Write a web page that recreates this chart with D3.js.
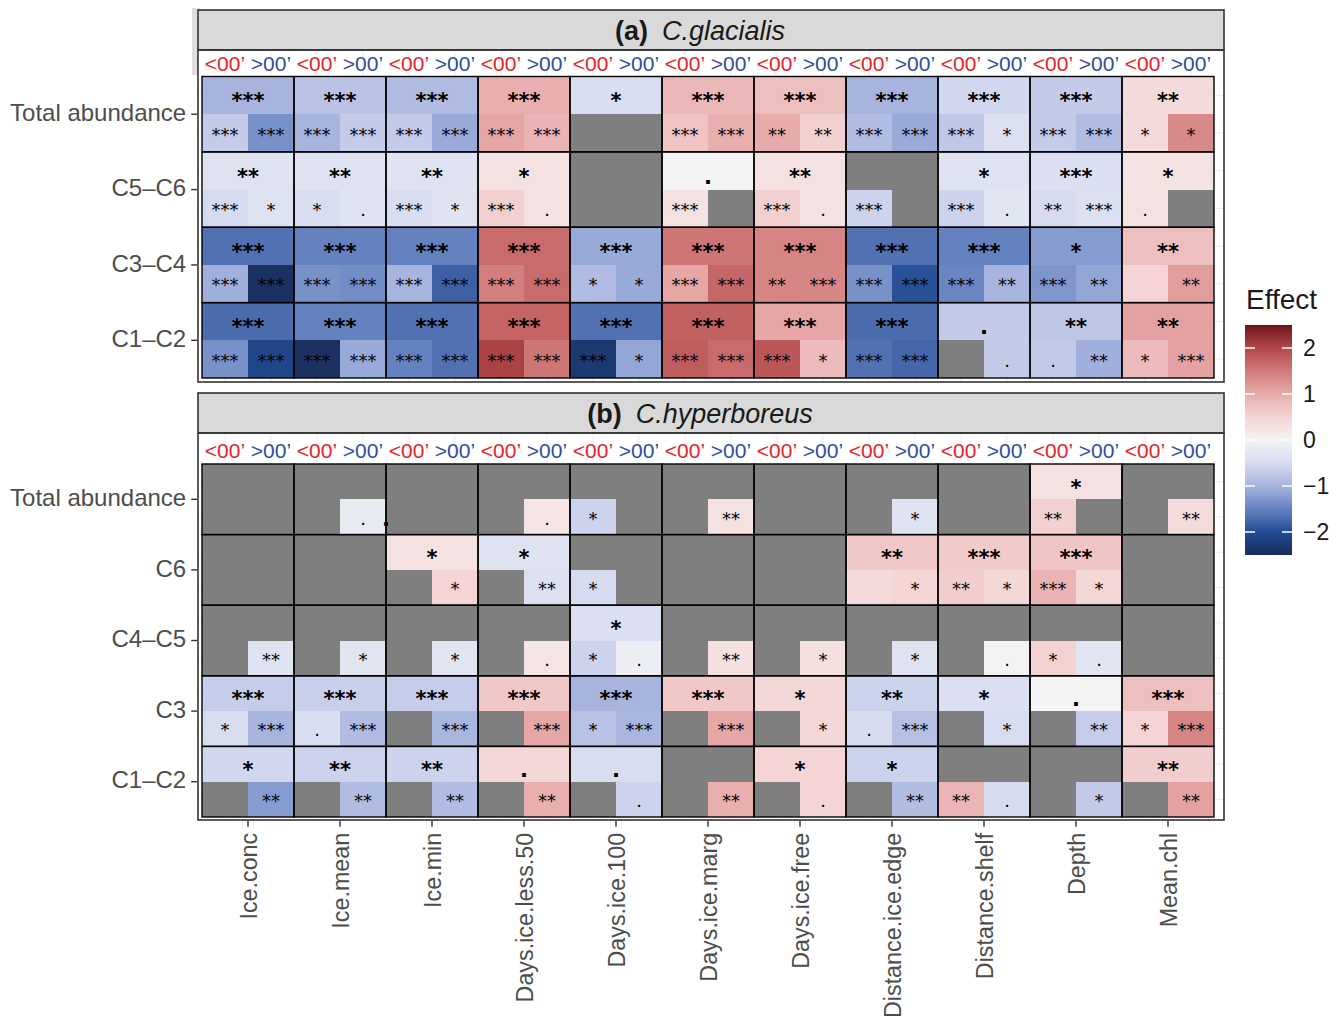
<!DOCTYPE html>
<html>
<head>
<meta charset="utf-8">
<script src="https://cdn.jsdelivr.net/npm/d3@7"></script>
<style>
  body { margin: 0; background: #fff; }
  svg { font-family: "Liberation Sans", Arial, Helvetica, sans-serif; }
</style>
</head>
<body>
<svg id="chart" width="1341" height="1021"></svg>
<script>
// ---- Explanatory variables (columns) and the two latitude halves of each cell ----
const variables = ["Ice.conc", "Ice.mean", "Ice.min", "Days.ice.less.50", "Days.ice.100",
  "Days.ice.marg", "Days.ice.free", "Distance.ice.edge", "Distance.shelf", "Depth", "Mean.chl"];
const halves = ["<00’", ">00’"];

// ---- Calanus glacialis ----
const glacStages = ["Total abundance", "C5–C6", "C3–C4", "C1–C2"];
// whole-area effect (upper half of each cell)
const glacAllEffect = [
  [-1.0, -0.8, -0.9, 0.95, -0.45, 0.85, 0.75, -1.0, -0.55, -0.7, 0.4],
  [-0.35, -0.35, -0.35, 0.3, null, 0.02, 0.3, null, -0.35, -0.42, 0.28],
  [-1.65, -1.5, -1.5, 1.65, -1.1, 1.55, 1.4, -1.65, -1.5, -1.25, 0.75],
  [-1.7, -1.5, -1.65, 1.72, -1.65, 1.75, 1.05, -1.7, -0.7, -0.75, 1.1]
];
const glacAllSig = [
  ["***", "***", "***", "***", "*", "***", "***", "***", "***", "***", "**"],
  ["**", "**", "**", "*", "", ".", "**", "", "*", "***", "*"],
  ["***", "***", "***", "***", "***", "***", "***", "***", "***", "*", "**"],
  ["***", "***", "***", "***", "***", "***", "***", "***", ".", "**", "**"]
];
// south of the split (<00')
const glacBelowEffect = [
  [-0.7, -1.0, -0.7, 1.05, null, 0.7, 1.0, -0.9, -0.75, -0.7, 0.4],
  [-0.5, -0.45, -0.45, 0.55, null, 0.3, 0.55, -0.6, -0.6, -0.5, 0.28],
  [-1.05, -1.35, -1.0, 1.45, -0.9, 1.05, 1.4, -1.35, -1.45, -1.3, 0.5],
  [-1.35, -2.45, -1.5, 2.05, -2.3, 1.8, 1.85, -1.65, null, -0.72, 0.8]
];
const glacBelowSig = [
  ["***", "***", "***", "***", "", "***", "**", "***", "***", "***", "*"],
  ["***", "*", "***", "***", "", "***", "***", "***", "***", "**", "."],
  ["***", "***", "***", "***", "*", "***", "**", "***", "***", "***", ""],
  ["***", "***", "***", "***", "***", "***", "***", "***", "", ".", "*"]
];
// north of the split (>00')
const glacAboveEffect = [
  [-1.35, -0.7, -1.1, 0.9, null, 0.95, 0.55, -1.1, -0.4, -0.9, 1.35],
  [-0.35, -0.33, -0.33, 0.28, null, null, 0.3, null, -0.3, -0.4, null],
  [-2.45, -1.4, -1.8, 1.65, -1.1, 1.7, 1.38, -1.95, -1.0, -1.15, 1.15],
  [-2.1, -1.1, -1.65, 1.55, -1.15, 1.65, 0.8, -1.75, -0.7, -1.05, 1.1]
];
const glacAboveSig = [
  ["***", "***", "***", "***", "", "***", "**", "***", "*", "***", "*"],
  ["*", ".", "*", ".", "", "", ".", "", ".", "***", ""],
  ["***", "***", "***", "***", "*", "***", "***", "***", "**", "**", "**"],
  ["***", "***", "***", "***", "*", "***", "*", "***", ".", "**", "***"]
];

// ---- Calanus hyperboreus ----
const hypStages = ["Total abundance", "C6", "C4–C5", "C3", "C1–C2"];
const hypAllEffect = [
  [null, null, null, null, null, null, null, null, null, 0.28, null],
  [null, null, 0.3, -0.35, null, null, null, 0.65, 0.62, 0.68, null],
  [null, null, null, null, -0.42, null, null, null, null, null, null],
  [-0.68, -0.65, -0.68, 0.65, -1.0, 0.65, 0.45, -0.62, -0.42, 0.0, 0.75],
  [-0.55, -0.6, -0.6, 0.45, -0.45, null, 0.5, -0.62, null, null, 0.58]
];
const hypAllSig = [
  ["", "", "", "", "", "", "", "", "", "*", ""],
  ["", "", "*", "*", "", "", "", "**", "***", "***", ""],
  ["", "", "", "", "*", "", "", "", "", "", ""],
  ["***", "***", "***", "***", "***", "***", "*", "**", "*", ".", "***"],
  ["*", "**", "**", ".", ".", "", "*", "*", "", "", "**"]
];
const hypBelowEffect = [
  [null, null, null, null, -0.6, null, null, null, null, 0.55, null],
  [null, null, null, null, -0.5, null, null, 0.4, 0.58, 0.9, null],
  [null, null, null, null, -0.6, null, null, null, null, 0.52, null],
  [-0.45, -0.45, null, null, -0.82, null, null, -0.5, null, null, 0.5],
  [null, null, null, null, null, null, null, null, 0.88, null, null]
];
const hypBelowSig = [
  ["", "", "", "", "*", "", "", "", "", "**", ""],
  ["", "", "", "", "*", "", "", "", "**", "***", ""],
  ["", "", "", "", "*", "", "", "", "", "*", ""],
  ["*", ".", "", "", "*", "", "", ".", "", "", "*"],
  ["", "", "", "", "", "", "", "", "**", "", ""]
];
const hypAboveEffect = [
  [null, -0.2, null, 0.25, null, 0.3, null, -0.35, null, null, 0.38],
  [null, null, 0.5, -0.4, null, null, null, 0.5, 0.45, 0.45, null],
  [-0.35, -0.32, -0.32, 0.25, -0.12, 0.32, 0.32, -0.35, 0.02, -0.3, null],
  [-1.0, -0.9, -0.98, 1.05, -0.98, 1.05, 0.45, -0.85, -0.48, -0.68, 1.4],
  [-1.25, -0.9, -0.9, 0.95, -0.6, 0.95, 0.5, -0.88, -0.5, -0.7, 1.1]
];
const hypAboveSig = [
  ["", ".", "", ".", "", "**", "", "*", "", "", "**"],
  ["", "", "*", "**", "", "", "", "*", "*", "*", ""],
  ["**", "*", "*", ".", ".", "**", "*", "*", ".", ".", ""],
  ["***", "***", "***", "***", "***", "***", "*", "***", "*", "**", "***"],
  ["**", "**", "**", "**", ".", "**", ".", "**", ".", "*", "**"]
];
// a lone significance mark printed on a column boundary
const strayMarks = [{ panel: 1, stage: "Total abundance", variable: "Ice.min", label: "." }];

// legend
const legendTicks = [2, 1, 0, -1, -2];
const legendTitle = "Effect";

// ---------------------------------------------------------------------------
const svg = d3.select("#chart");

const color = d3.scaleLinear()
  .domain([-2.5, -2, -1.5, -1, -0.5, 0, 0.5, 1, 1.5, 2, 2.5])
  .range(["#1b2d5c", "#1f4c94", "#6482c0", "#a7b4de", "#d6dbf0", "#f4f4f4",
          "#f4d4d4", "#e8abab", "#d17a7b", "#b2474b", "#6b1218"])
  .interpolate(d3.interpolateLab)
  .clamp(true);
const naColor = "#7f7f7f";
const starFont = "'DejaVu Sans', sans-serif";

const panelLeft = 198, panelRight = 1224;
const x = d3.scaleBand().domain(variables).range([202, 1214]);
const side = d3.scaleBand().domain(halves).range([0, x.bandwidth()]);

const panels = [
  { tag: "(a)", species: "C.glacialis", stages: glacStages,
    all: [glacAllEffect, glacAllSig], below: [glacBelowEffect, glacBelowSig], above: [glacAboveEffect, glacAboveSig],
    strip: [10, 50], body: [50, 382], tiles: [76.5, 378] },
  { tag: "(b)", species: "C.hyperboreus", stages: hypStages,
    all: [hypAllEffect, hypAllSig], below: [hypBelowEffect, hypBelowSig], above: [hypAboveEffect, hypAboveSig],
    strip: [393, 433], body: [433, 820], tiles: [464, 817] }
];

// faint backdrop block to the left of the first strip
svg.append("rect").attr("x", 192).attr("y", 8).attr("width", 8).attr("height", 67).attr("fill", "#dedede");

panels.forEach((p, pi) => {
  const g = svg.append("g");
  const y = d3.scaleBand().domain(p.stages).range(p.tiles);
  const part = d3.scaleBand().domain(["all", "split"]).range([0, y.bandwidth()]);

  // panel background + grid
  g.append("rect").attr("x", panelLeft).attr("y", p.body[0])
    .attr("width", panelRight - panelLeft).attr("height", p.body[1] - p.body[0]).attr("fill", "#fff");
  const gx = [];
  variables.forEach(v => halves.forEach(h => gx.push(x(v) + side(h) + side.bandwidth() / 2)));
  g.selectAll("line.gx").data(gx).join("line")
    .attr("x1", d => d).attr("x2", d => d).attr("y1", p.body[0]).attr("y2", p.body[1])
    .attr("stroke", "#ebebeb").attr("stroke-width", 1);
  const gy = [];
  p.stages.forEach(s => ["all", "split"].forEach(k => gy.push(y(s) + part(k) + part.bandwidth() / 2)));
  g.selectAll("line.gy").data(gy).join("line")
    .attr("y1", d => d).attr("y2", d => d).attr("x1", panelLeft).attr("x2", panelRight)
    .attr("stroke", "#ebebeb").attr("stroke-width", 1);

  // strip
  g.append("rect").attr("x", panelLeft).attr("y", p.strip[0])
    .attr("width", panelRight - panelLeft).attr("height", p.strip[1] - p.strip[0])
    .attr("fill", "#d9d9d9").attr("stroke", "#333").attr("stroke-width", 1.6);
  const st = g.append("text").attr("x", 700).attr("y", (p.strip[0] + p.strip[1]) / 2)
    .attr("dy", "0.36em").attr("text-anchor", "middle").attr("font-size", 27).attr("fill", "#1a1a1a");
  st.append("tspan").attr("font-weight", "bold").text(p.tag);
  st.append("tspan").attr("font-style", "italic").attr("dx", 14).text(p.species);

  // tiles
  const recs = [];
  p.stages.forEach((s, i) => variables.forEach((v, j) => {
    recs.push({ level: "all", x: x(v), w: x.bandwidth(), y: y(s) + part("all"), h: part.bandwidth(),
      value: p.all[0][i][j], sig: p.all[1][i][j] });
    recs.push({ level: "split", x: x(v) + side(halves[0]), w: side.bandwidth(), y: y(s) + part("split"), h: part.bandwidth(),
      value: p.below[0][i][j], sig: p.below[1][i][j] });
    recs.push({ level: "split", x: x(v) + side(halves[1]), w: side.bandwidth(), y: y(s) + part("split"), h: part.bandwidth(),
      value: p.above[0][i][j], sig: p.above[1][i][j] });
  }));
  g.selectAll("rect.tile").data(recs).join("rect").attr("class", "tile")
    .attr("x", d => d.x).attr("y", d => d.y).attr("width", d => d.w).attr("height", d => d.h)
    .attr("fill", d => d.value == null ? naColor : color(d.value))
    .attr("shape-rendering", "crispEdges");

  // cell outlines
  const cells = [];
  p.stages.forEach(s => variables.forEach(v => cells.push({ x: x(v), y: y(s) })));
  g.selectAll("rect.cell").data(cells).join("rect").attr("class", "cell")
    .attr("x", d => d.x).attr("y", d => d.y).attr("width", x.bandwidth()).attr("height", y.bandwidth())
    .attr("fill", "none").attr("stroke", "#000").attr("stroke-width", 1.4);

  // significance labels
  g.selectAll("text.sig").data(recs.filter(d => d.sig)).join("text").attr("class", "sig")
    .attr("x", d => d.x + d.w / 2).attr("y", d => d.y + d.h / 2)
    .attr("dy", d => d.level === "all" ? "0.62em" : "0.42em")
    .attr("text-anchor", "middle")
    .style("font-family", starFont)
    .attr("font-size", d => d.level === "all" ? 21 : 18)
    .attr("font-weight", d => d.level === "all" ? "bold" : "normal")
    .attr("fill", "#000")
    .text(d => d.sig);

  strayMarks.filter(m => m.panel === pi).forEach(m => {
    g.append("text").attr("x", x(m.variable)).attr("y", y(m.stage) + part("split") + part.bandwidth() / 2)
      .attr("dy", "0.45em").attr("text-anchor", "middle")
      .style("font-family", starFont).attr("font-size", 21).attr("font-weight", "bold")
      .text(m.label);
  });

  // latitude half labels above the tiles
  const hl = [];
  variables.forEach(v => halves.forEach((h, k) => hl.push({ x: x(v) + side(h) + side.bandwidth() / 2, label: h, k })));
  g.selectAll("text.half").data(hl).join("text").attr("class", "half")
    .attr("x", d => d.x).attr("y", p.tiles[0] - 6)
    .attr("text-anchor", "middle").attr("font-size", 21)
    .attr("fill", d => d.k === 0 ? "#e3242b" : "#2f4d9e")
    .text(d => d.label);

  // panel border
  g.append("rect").attr("x", panelLeft).attr("y", p.body[0])
    .attr("width", panelRight - panelLeft).attr("height", p.body[1] - p.body[0])
    .attr("fill", "none").attr("stroke", "#333").attr("stroke-width", 1.6);

  // y axis
  const ya = g.append("g").attr("transform", `translate(${panelLeft - 0.8},0)`)
    .call(d3.axisLeft(y).tickSize(6).tickPadding(5));
  ya.select(".domain").remove();
  ya.selectAll(".tick line").attr("stroke", "#333").attr("stroke-width", 1.4);
  ya.selectAll(".tick text").attr("font-size", 24).attr("fill", "#4d4d4d").attr("dy", "0.28em")
    .style("font-family", "'Liberation Sans', Arial, sans-serif");

  // x axis on the lower panel
  if (pi === panels.length - 1) {
    const xa = g.append("g").attr("transform", `translate(0,${p.body[1] + 0.8})`)
      .call(d3.axisBottom(x).tickSize(6).tickPadding(6));
    xa.select(".domain").remove();
    xa.selectAll(".tick line").attr("stroke", "#333").attr("stroke-width", 1.4);
    xa.selectAll(".tick text")
      .attr("transform", "rotate(-90)")
      .attr("x", -12).attr("y", 0).attr("dy", "0.38em")
      .attr("text-anchor", "end")
      .attr("font-size", 23.3).attr("fill", "#4d4d4d")
      .style("font-family", "'Liberation Sans', Arial, sans-serif");
  }
});

// ---- colour bar legend ----
const lx = 1245, lw = 47;
const ly = d3.scaleLinear().domain([-2.5, 2.5]).range([555, 325]);
const defs = svg.append("defs");
const grad = defs.append("linearGradient").attr("id", "effectGrad")
  .attr("x1", 0).attr("y1", 1).attr("x2", 0).attr("y2", 0);
d3.range(0, 1.0001, 0.02).forEach(t => {
  grad.append("stop").attr("offset", t).attr("stop-color", color(-2.5 + 5 * t));
});
svg.append("text").attr("x", lx + 1).attr("y", 309).attr("font-size", 28).attr("fill", "#1a1a1a").text(legendTitle);
svg.append("rect").attr("x", lx).attr("y", ly(2.5)).attr("width", lw).attr("height", ly(-2.5) - ly(2.5))
  .attr("fill", "url(#effectGrad)");
legendTicks.forEach(v => {
  svg.append("line").attr("x1", lx).attr("x2", lx + 10).attr("y1", ly(v)).attr("y2", ly(v))
    .attr("stroke", "#fff").attr("stroke-width", 1.5);
  svg.append("line").attr("x1", lx + lw - 10).attr("x2", lx + lw).attr("y1", ly(v)).attr("y2", ly(v))
    .attr("stroke", "#fff").attr("stroke-width", 1.5);
  svg.append("text").attr("x", 1303).attr("y", ly(v)).attr("dy", "0.36em")
    .attr("font-size", 23).attr("fill", "#1a1a1a")
    .text(v < 0 ? "−" + Math.abs(v) : String(v));
});
</script>
</body>
</html>
